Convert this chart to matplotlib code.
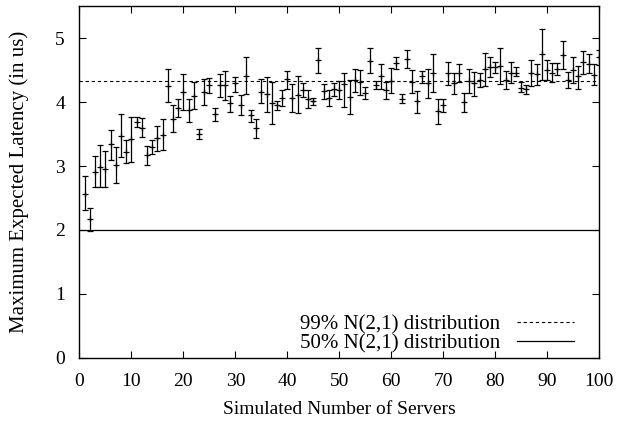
import numpy as np
import matplotlib.pyplot as plt

plt.rcParams['font.family'] = ['Liberation Serif', 'DejaVu Serif']

# measured maximum latency per server count: mean, lower and upper bound
servers = np.arange(1, 101)
latency = [
    2.57, 2.17, 2.91, 2.99, 2.95, 3.34, 3.02, 3.47, 3.22, 3.42,
    3.69, 3.60, 3.17, 3.30, 3.43, 3.49, 4.25, 3.74, 3.91, 4.15,
    3.87, 4.10, 3.50, 4.16, 4.27, 3.81, 4.26, 4.26, 3.98, 4.29,
    3.95, 4.41, 3.79, 3.59, 4.16, 4.12, 3.98, 3.95, 4.07, 4.36,
    4.06, 4.11, 4.19, 4.04, 4.02, 4.66, 4.17, 4.07, 4.20, 4.19,
    4.28, 4.08, 4.34, 4.31, 4.14, 4.64, 4.27, 4.41, 4.19, 4.33,
    4.61, 4.05, 4.67, 4.32, 4.01, 4.40, 4.30, 4.46, 3.86, 3.95,
    4.45, 4.30, 4.46, 4.00, 4.33, 4.30, 4.34, 4.52, 4.55, 4.54,
    4.56, 4.34, 4.46, 4.46, 4.22, 4.20, 4.45, 4.43, 4.75, 4.50,
    4.46, 4.51, 4.73, 4.34, 4.50, 4.40, 4.62, 4.59, 4.42, 4.70,
]
low = [
    2.31, 1.99, 2.67, 2.67, 2.67, 3.10, 2.73, 3.14, 3.05, 3.06,
    3.61, 3.45, 3.02, 3.19, 3.23, 3.25, 4.00, 3.53, 3.76, 3.87,
    3.69, 3.89, 3.42, 3.96, 4.14, 3.71, 4.08, 4.03, 3.85, 4.16,
    3.80, 4.13, 3.69, 3.44, 3.98, 3.84, 3.66, 3.88, 3.94, 4.21,
    3.84, 3.83, 4.08, 3.90, 3.96, 4.46, 4.05, 3.94, 4.10, 4.04,
    3.92, 3.81, 4.16, 4.11, 4.05, 4.45, 4.20, 4.21, 4.05, 4.14,
    4.52, 3.98, 4.53, 4.14, 3.83, 4.29, 4.07, 4.16, 3.65, 3.85,
    4.26, 4.13, 4.32, 3.85, 4.14, 4.10, 4.24, 4.25, 4.39, 4.45,
    4.28, 4.21, 4.30, 4.40, 4.15, 4.12, 4.25, 4.27, 4.35, 4.34,
    4.32, 4.42, 4.51, 4.22, 4.30, 4.21, 4.44, 4.45, 4.27, 4.58,
]
high = [
    2.84, 2.35, 3.16, 3.33, 3.24, 3.57, 3.30, 3.82, 3.40, 3.77,
    3.77, 3.75, 3.31, 3.40, 3.63, 3.73, 4.51, 3.96, 4.05, 4.43,
    4.05, 4.32, 3.58, 4.36, 4.38, 3.91, 4.44, 4.48, 4.09, 4.39,
    4.11, 4.71, 3.87, 3.73, 4.36, 4.39, 4.31, 4.02, 4.19, 4.49,
    4.28, 4.40, 4.29, 4.18, 4.07, 4.85, 4.28, 4.19, 4.29, 4.33,
    4.46, 4.35, 4.51, 4.50, 4.23, 4.84, 4.33, 4.60, 4.31, 4.53,
    4.71, 4.13, 4.81, 4.50, 4.17, 4.49, 4.52, 4.75, 4.05, 4.05,
    4.63, 4.46, 4.60, 4.14, 4.52, 4.47, 4.46, 4.77, 4.71, 4.63,
    4.85, 4.49, 4.63, 4.54, 4.31, 4.27, 4.65, 4.60, 5.14, 4.65,
    4.61, 4.61, 4.95, 4.47, 4.70, 4.57, 4.80, 4.75, 4.59, 4.82,
]

# quantiles of N(2,1)
q99 = 4.326
q50 = 2.0

latency = np.array(latency)
yerr = [latency - np.array(low), np.array(high) - latency]

fig = plt.figure(figsize=(6.18, 4.24), dpi=100)
ax = fig.add_axes([0.1286, 0.1557, 0.8407, 0.8301])

ax.axhline(q99, color='black', linewidth=0.8, linestyle=(0, (3, 2.5)),
           label='99% N(2,1) distribution')
ax.axhline(q50, color='black', linewidth=0.9, label='50% N(2,1) distribution')
ax.errorbar(servers, latency, yerr=yerr, fmt='+', color='black', markersize=4,
            markeredgewidth=0.9, elinewidth=0.9, capsize=2.2, capthick=0.9)

ax.set_xlim(0, 100)
ax.set_ylim(0, 5.5)
ax.set_xticks(np.arange(0, 101, 10))
ax.set_yticks(np.arange(0, 6, 1))
ax.tick_params(direction='in', length=5, width=0.8, top=True, right=True,
               labelsize=14, pad=10.5)
for side in ax.spines.values():
    side.set_linewidth(1.0)

ax.set_xlabel('Simulated Number of Servers', fontsize=14, labelpad=8)
ax.set_ylabel('Maximum Expected Latency (in us)', fontsize=15, labelpad=19)

ax.legend(loc='lower right', bbox_to_anchor=(0.952, 0.012), frameon=False,
          markerfirst=False, fontsize=15, handlelength=2.75,
          handletextpad=0.8, labelspacing=0.0, borderpad=0,
          borderaxespad=0)

fig.savefig('out.png')
